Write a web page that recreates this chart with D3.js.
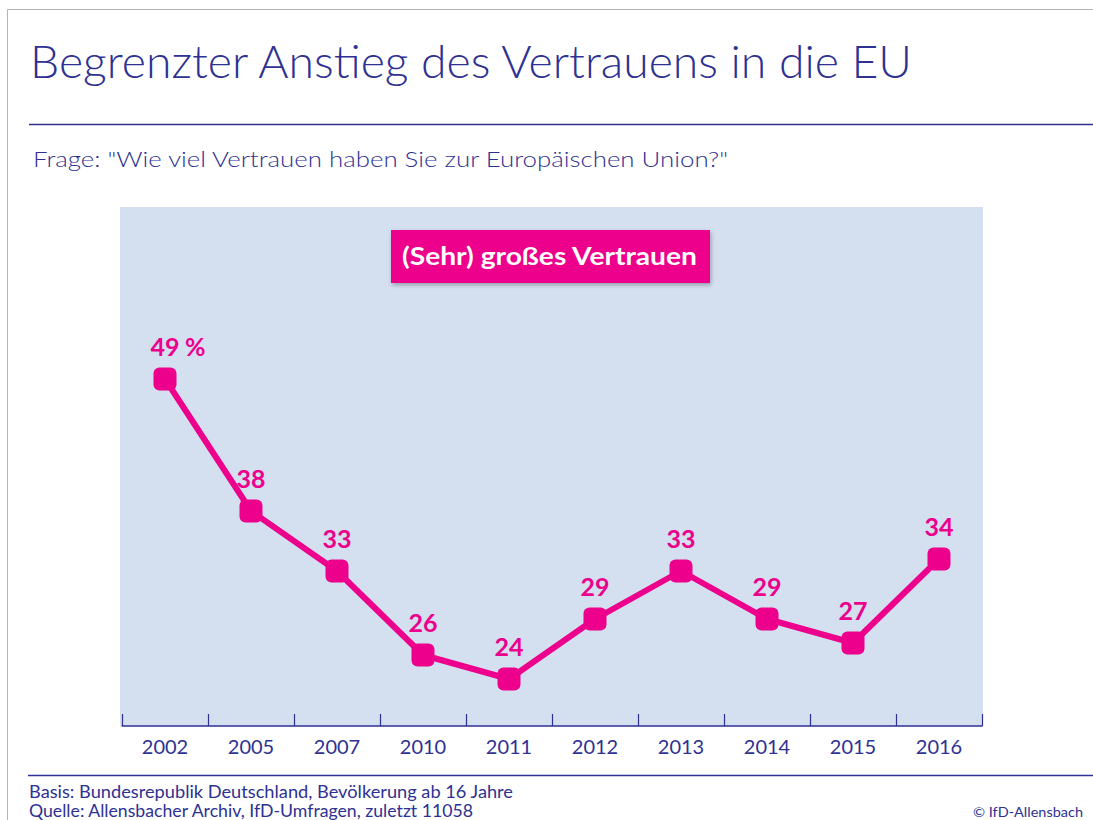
<!DOCTYPE html>
<html>
<head>
<meta charset="utf-8">
<script src="https://cdn.jsdelivr.net/npm/d3@7"></script>
<style>
  body { margin: 0; background: #fff; }
  text { font-family: "Lato", "DejaVu Sans", sans-serif; }
</style>
</head>
<body>
<svg id="chart" width="1093" height="820"></svg>
<script>
// data
const years = ["2002", "2005", "2007", "2010", "2011", "2012", "2013", "2014", "2015", "2016"];
const values = [49, 38, 33, 26, 24, 29, 33, 29, 27, 34];
const seriesName = "(Sehr) großes Vertrauen";

const blue = "#2e3192";
const pink = "#ec008c";

let svg = d3.select("#chart");

// frame
svg.append("path")
  .attr("d", "M7.5,820 L7.5,9.5 L1093,9.5")
  .style("fill", "none")
  .style("stroke", "#b3b3b3")
  .style("stroke-width", 1);

// title + rule
svg.append("text")
  .attr("x", 30)
  .attr("y", 78)
  .attr("textLength", 882)
  .attr("lengthAdjust", "spacingAndGlyphs")
  .text("Begrenzter Anstieg des Vertrauens in die EU")
  .style("font-size", "45px")
  .style("font-weight", 300)
  .style("fill", blue);
svg.append("line")
  .attr("x1", 29).attr("x2", 1093)
  .attr("y1", 124.5).attr("y2", 124.5)
  .style("stroke", blue).style("stroke-width", 1.3);

svg.append("text")
  .attr("x", 33)
  .attr("y", 167)
  .attr("textLength", 695)
  .attr("lengthAdjust", "spacingAndGlyphs")
  .text("Frage:  \"Wie viel Vertrauen haben Sie zur Europäischen Union?\"")
  .style("font-size", "21px")
  .style("font-weight", 300)
  .style("fill", blue);

// plot area
let plot = { left: 121, right: 983, top: 207, bottom: 726 };

svg.append("rect")
  .attr("x", plot.left - 1)
  .attr("y", plot.top)
  .attr("width", plot.right - plot.left + 1)
  .attr("height", plot.bottom - plot.top)
  .style("fill", "#d4dff0");

let xScale = d3.scaleBand()
  .domain(years)
  .range([122, 982])
  .padding(0);

let yScale = d3.scaleLinear()
  .domain([24, 49])
  .range([679, 379]);

// axis line with ticks at band edges
let axis = svg.append("g");
axis.append("line")
  .attr("x1", 121.5).attr("x2", 982.5)
  .attr("y1", plot.bottom).attr("y2", plot.bottom)
  .style("stroke", blue).style("stroke-width", 1.5);
let edges = years.map(d => xScale(d)).concat([xScale(years[years.length - 1]) + xScale.bandwidth()]);
axis.selectAll(".tick")
  .data(edges)
  .enter()
  .append("line")
    .attr("x1", d => d + 0.5).attr("x2", d => d + 0.5)
    .attr("y1", plot.bottom - 12).attr("y2", plot.bottom)
    .style("stroke", blue).style("stroke-width", 1.2);
axis.selectAll(".yearLabel")
  .data(years)
  .enter()
  .append("text")
    .attr("x", d => xScale(d) + xScale.bandwidth() / 2)
    .attr("y", 754)
    .text(d => d)
    .style("text-anchor", "middle")
    .style("font-size", "20px")
    .style("fill", blue);

// legend box
let defs = svg.append("defs");
let f = defs.append("filter").attr("id", "shadow")
  .attr("x", "-10%").attr("y", "-20%").attr("width", "120%").attr("height", "150%");
f.append("feDropShadow")
  .attr("dx", 1).attr("dy", 2).attr("stdDeviation", 2)
  .attr("flood-color", "#000").attr("flood-opacity", 0.3);

svg.append("rect")
  .attr("x", 391).attr("y", 230)
  .attr("width", 319).attr("height", 53)
  .style("fill", pink)
  .attr("filter", "url(#shadow)");
svg.append("text")
  .attr("x", 402)
  .attr("y", 265)
  .attr("textLength", 295)
  .attr("lengthAdjust", "spacingAndGlyphs")
  .text(seriesName)
  .style("font-size", "25px")
  .style("font-weight", "bold")
  .style("fill", "#fff");

// line + markers
let pts = years.map((y, i) => ({ year: y, value: values[i] }));
let line = d3.line()
  .x(d => xScale(d.year) + xScale.bandwidth() / 2)
  .y(d => yScale(d.value));

svg.append("path")
  .datum(pts)
  .attr("d", line)
  .style("fill", "none")
  .style("stroke", pink)
  .style("stroke-width", 6)
  .style("stroke-linejoin", "round");

let m = 23;
svg.selectAll(".marker")
  .data(pts)
  .enter()
  .append("rect")
    .attr("x", d => xScale(d.year) + xScale.bandwidth() / 2 - m / 2)
    .attr("y", d => yScale(d.value) - m / 2)
    .attr("width", m).attr("height", m)
    .attr("rx", 6).attr("ry", 6)
    .style("fill", pink);

svg.selectAll(".valueLabel")
  .data(pts)
  .enter()
  .append("text")
    .attr("x", d => xScale(d.year) + xScale.bandwidth() / 2)
    .attr("y", d => yScale(d.value) - 23)
    .text(d => d.value)
    .style("text-anchor", "middle")
    .style("font-size", "25px")
    .style("font-weight", "bold")
    .style("fill", pink);
svg.append("text")
  .attr("x", xScale(years[0]) + xScale.bandwidth() / 2 + 20)
  .attr("y", yScale(values[0]) - 23)
  .text("%")
  .style("font-size", "25px")
  .style("font-weight", "bold")
  .style("fill", pink);

// footer
svg.append("line")
  .attr("x1", 28).attr("x2", 1093)
  .attr("y1", 775.5).attr("y2", 775.5)
  .style("stroke", blue).style("stroke-width", 1.3);
svg.append("text")
  .attr("x", 29).attr("y", 798)
  .attr("textLength", 484)
  .attr("lengthAdjust", "spacingAndGlyphs")
  .text("Basis: Bundesrepublik Deutschland, Bevölkerung ab 16 Jahre")
  .style("font-size", "17px").style("fill", blue);
svg.append("text")
  .attr("x", 29).attr("y", 817)
  .attr("textLength", 444)
  .attr("lengthAdjust", "spacingAndGlyphs")
  .text("Quelle: Allensbacher Archiv, IfD-Umfragen, zuletzt 11058")
  .style("font-size", "17px").style("fill", blue);
svg.append("text")
  .attr("x", 973).attr("y", 817)
  .attr("textLength", 110)
  .attr("lengthAdjust", "spacingAndGlyphs")
  .text("© IfD-Allensbach")
  .style("font-size", "14px").style("fill", blue);
</script>
</body>
</html>
